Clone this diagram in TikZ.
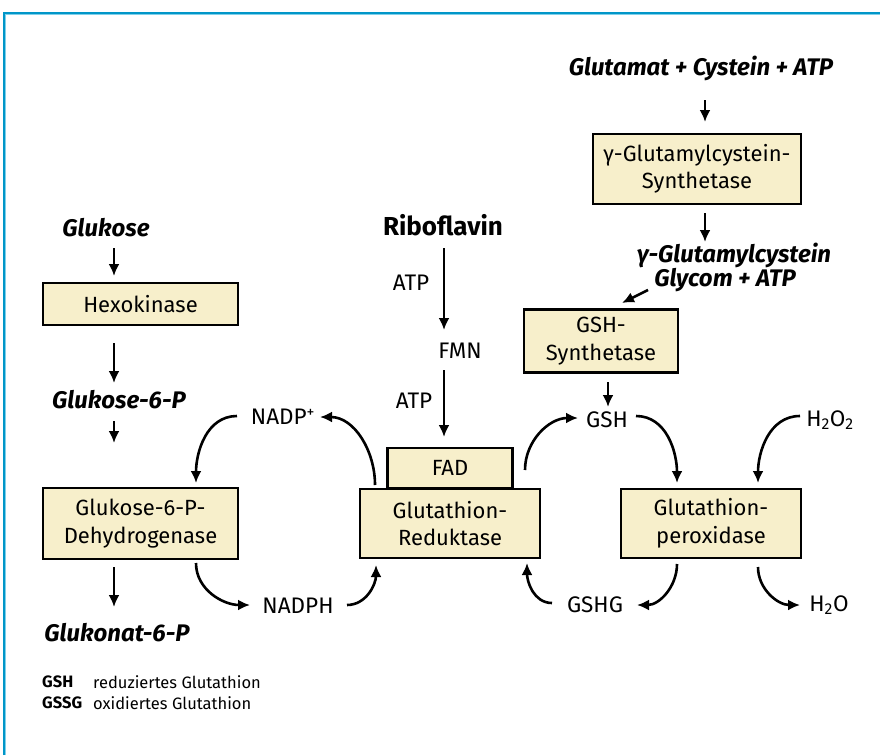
\documentclass[tikz,border=0pt]{standalone}
\usepackage{fontspec}
\setmainfont{Fira Sans}
\usepackage{xcolor}
\usetikzlibrary{arrows.meta, calc}
\definecolor{framedark}{HTML}{0096C8}
\definecolor{framelight}{HTML}{7FD0EA}
\definecolor{boxfill}{HTML}{F7EFCB}
\tikzset{
  enzyme/.style={draw, line width=2.2pt, fill=boxfill, align=center, inner sep=2pt,
    font=\fontsize{22}{27.5}\selectfont},
  lbl/.style={inner sep=0pt, font=\fontsize{22.5}{27}\selectfont},
  substrate/.style={inner sep=0pt, align=center, font=\fontsize{24}{25}\selectfont\bfseries\itshape},
  legend/.style={inner sep=0pt, anchor=west, font=\fontsize{16.5}{19}\selectfont},
  arr/.style={-{Latex[length=12pt,width=11pt]}, line width=2.6pt}
}
\begin{document}
\begin{tikzpicture}[x=1pt,y=1pt]
      \useasboundingbox (0,0) rectangle (880,-755);
      \draw[framedark, line width=2pt] (4,-755) -- (4,-13) -- (880,-13);
      \draw[framelight, line width=1.3pt] (5.6,-755) -- (5.6,-14.6) -- (880,-14.6);

      % glutathion synthesis
      \node[substrate] (glutamat) at (701,-68) {Glutamat + Cystein + ATP};
      \node[enzyme, minimum width=208, minimum height=70] (gcs) at (697,-169) {γ-Glutamylcystein-\\Synthetase};
      \node[substrate] (gglu) at (734,-255) {γ-Glutamylcystein};
      \node[substrate] (glycom) at (725,-280) {Glycom + ATP};
      \node[enzyme, minimum width=154, minimum height=63] (gshs) at (601,-341) {GSH-\\Synthetase};
      \draw[arr] ([shift={(4,-32)}]glutamat.center) -- ([shift={(8,47)}]gcs.center);
      \draw[arr] ([shift={(8,-44)}]gcs.center) -- ([shift={(-29,13)}]gglu.center);
      \draw[arr] ([shift={(-77,-10)}]glycom.center) -- ([shift={(21,38)}]gshs.center);

      % peroxidase
      \node[lbl] (gsh) at (607,-420) {GSH};
      \node[lbl] (h2o2) at (830,-420) {H\textsubscript{2}O\textsubscript{2}};
      \node[enzyme, minimum width=180, minimum height=69] (perox) at (711,-523.5) {Glutathion-\\peroxidase};
      \node[lbl] (gshg) at (595,-605) {GSHG};
      \node[lbl] (h2o) at (829,-605) {H\textsubscript{2}O};
      \draw[arr] ([shift={(7,-41)}]gshs.center) -- ([shift={(1,13)}]gsh.center);
      \draw[arr] ([shift={(29,4)}]gsh.center) to[out=0, in=90] ([shift={(-34,40.5)}]perox.center);
      \draw[arr] ([shift={(-30,4)}]h2o2.center) to[out=180, in=90] ([shift={(47,40.5)}]perox.center);
      \draw[arr] ([shift={(-34,-40.5)}]perox.center) to[out=-90, in=0] ([shift={(42,0)}]gshg.center);
      \draw[arr] ([shift={(47,-43.5)}]perox.center) to[out=-90, in=180] ([shift={(-29,0)}]h2o.center);

      % reductase
      \node[font=\fontsize{26}{30}\selectfont\bfseries, inner sep=0pt] (ribo) at (443,-225) {Riboflavin};
      \node[lbl] (atpa) at (411,-283) {ATP};
      \node[lbl] (fmn) at (460,-351) {FMN};
      \node[lbl] (atpb) at (414,-401) {ATP};
      \node[enzyme, minimum width=125, minimum height=40] (fad) at (450,-468) {FAD};
      \node[enzyme, minimum width=180, minimum height=69] (red) at (450,-523.5) {Glutathion-\\Reduktase};
      \draw[arr] ([shift={(1,-23)}]ribo.center) -- ([shift={(-16,21)}]fmn.center);
      \draw[arr] ([shift={(-16,-19)}]fmn.center) -- ([shift={(-6,31)}]fad.center);
      \draw[arr] ([shift={(-43,2)}]gshg.center) to[out=180, in=-90] ([shift={(77,-39.5)}]red.center);
      \draw[arr] ([shift={(75,53.5)}]red.center) to[out=90, in=180] ([shift={(-29,2)}]gsh.center);

      % pentose phosphate side
      \node[substrate] (glukose) at (106,-228) {Glukose};
      \node[enzyme, minimum width=195, minimum height=42] (hexo) at (140.5,-304) {Hexokinase};
      \node[substrate] (g6p) at (119,-400) {Glukose-6-P};
      \node[enzyme, minimum width=195, minimum height=71] (g6pd) at (140.5,-523.5) {Glukose-6-P-\\Dehydrogenase};
      \node[substrate] (glukonat) at (117,-633) {Glukonat-6-P};
      \node[lbl] (nadp) at (283,-417) {NADP\textsuperscript{+}};
      \node[lbl] (nadph) at (298,-606) {NADPH};
      \draw[arr] ([shift={(8,-20)}]glukose.center) -- ([shift={(-26.5,28)}]hexo.center);
      \draw[arr] ([shift={(-26.5,-39)}]hexo.center) -- ([shift={(-5,17)}]g6p.center);
      \draw[arr] ([shift={(-5,-21)}]g6p.center) -- ([shift={(-26.5,80.5)}]g6pd.center);
      \draw[arr] ([shift={(-26.5,-43.5)}]g6pd.center) -- ([shift={(-3,26)}]glukonat.center);
      \draw[arr] ([shift={(55.5,-39.5)}]g6pd.center) to[out=-90, in=180] ([shift={(-48,1)}]nadph.center);
      \draw[arr] ([shift={(49,1)}]nadph.center) to[out=0, in=-90] ([shift={(-74,-41.5)}]red.center);
      \draw[arr] ([shift={(-46,1)}]nadp.center) to[out=180, in=90] ([shift={(55.5,40.5)}]g6pd.center);
      \draw[arr] ([shift={(-75,38.5)}]red.center) to[out=90, in=0] ([shift={(37,0)}]nadp.center);

      % legend
      \node[legend, font=\fontsize{16.5}{19}\selectfont\bfseries] (kgsh) at (42,-682) {GSH};
      \node[legend] (tgsh) at (93,-682) {reduziertes Glutathion};
      \node[legend, font=\fontsize{16.5}{19}\selectfont\bfseries] (kgssg) at (42,-703) {GSSG};
      \node[legend] (tgssg) at (93,-703) {oxidiertes Glutathion};
\end{tikzpicture}
\end{document}
